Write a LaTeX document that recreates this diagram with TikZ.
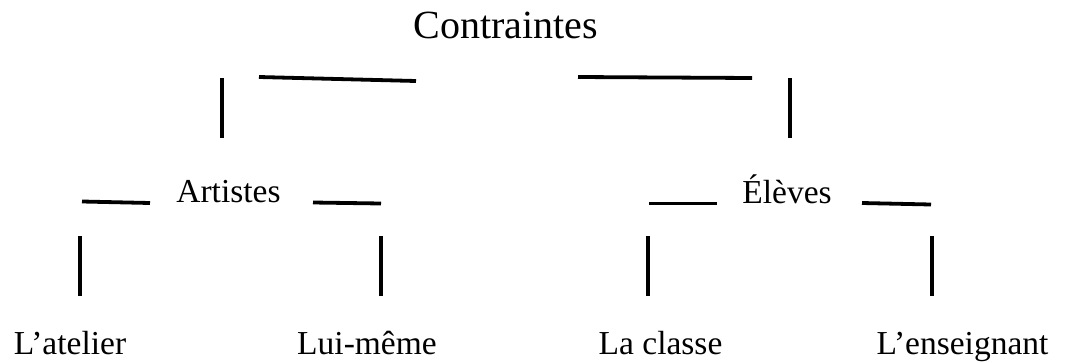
\documentclass[tikz,border=0pt]{standalone}
\usepackage{fontspec}
\setmainfont{Liberation Serif}
\begin{document}
\begin{tikzpicture}[x=1pt,y=-1pt,
  bar/.style={line width=3.8pt,black},
  lvl/.style={anchor=base,inner sep=0pt,font=\fontsize{33.5}{36}\selectfont},
  top/.style={anchor=base,inner sep=0pt,font=\fontsize{40}{44}\selectfont}]
\useasboundingbox (0,0) rectangle (1073,362);
% labels
\node[top] (c) at (506,38) {Contraintes};
\node[lvl] (art) at (228.5,202) {Artistes};
\node[lvl] (ele) at (787,203) {Élèves};
\node[lvl] (ate) at (70,354) {L’atelier};
\node[lvl] (lui) at (367,354) {Lui-même};
\node[lvl] (cla) at (660.5,354) {La classe};
\node[lvl] (ens) at (962.5,354) {L’enseignant};
% segment end points
\coordinate (h1a) at (259,77); \coordinate (h1b) at (416,81);
\coordinate (h2a) at (578,77); \coordinate (h2b) at (752,78);
\coordinate (v1a) at (222,78); \coordinate (v1b) at (222,138);
\coordinate (v2a) at (790,78); \coordinate (v2b) at (790,138);
\coordinate (s1a) at (82,201.5); \coordinate (s1b) at (150,203);
\coordinate (s2a) at (313,202.5); \coordinate (s2b) at (381,203.5);
\coordinate (s3a) at (649,203.5); \coordinate (s3b) at (717,203.5);
\coordinate (s4a) at (862,203); \coordinate (s4b) at (931,204.5);
\coordinate (w1a) at (80,236); \coordinate (w1b) at (80,296);
\coordinate (w2a) at (381,236); \coordinate (w2b) at (381,296);
\coordinate (w3a) at (648,236); \coordinate (w3b) at (648,296);
\coordinate (w4a) at (932,236); \coordinate (w4b) at (932,296);
\foreach \p in {h1,h2,v1,v2,s1,s2,s3,s4,w1,w2,w3,w4}
  \draw[bar] (\p a) -- (\p b);
\end{tikzpicture}
\end{document}
